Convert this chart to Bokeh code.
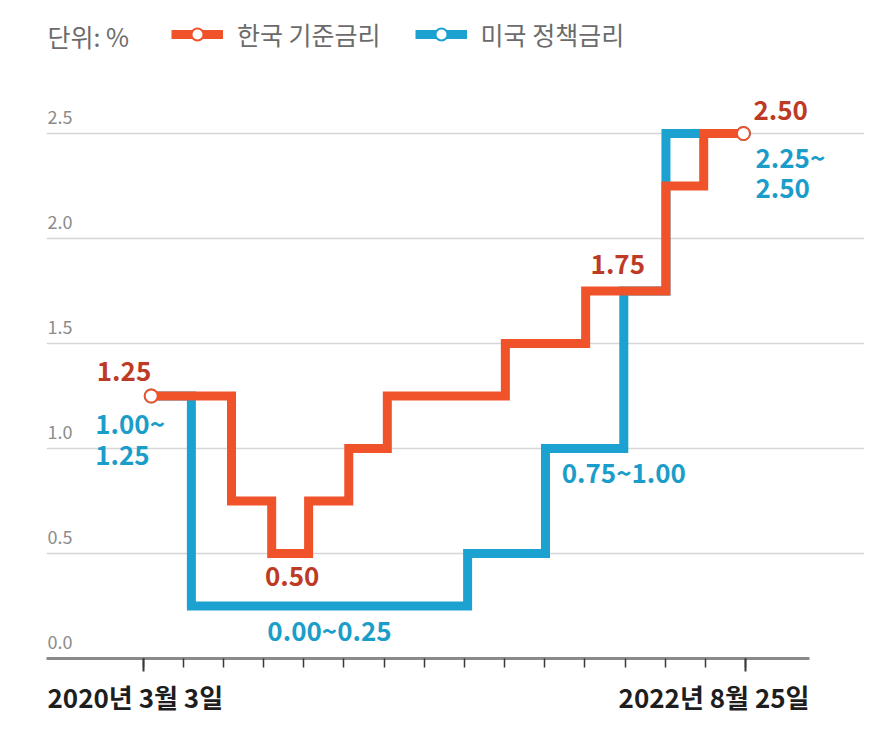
from bokeh.plotting import figure
from bokeh.layouts import column
from bokeh.models import Range1d, FixedTicker, Legend, LegendItem
from bokeh.core.properties import value
from bokeh.embed import file_html
from bokeh.resources import INLINE

FONT = "Noto Sans CJK KR"
ORANGE = "#f0522a"
BLUE = "#1ba2d0"
ORANGE_TXT = "#bd3a25"
BLUE_TXT = "#1b9dca"

# ---------------- data (x = position on the schematic timeline, tick units) ----------------
kr_x = [0.2, 2.2, 3.2, 4.12, 5.12, 6.08, 9.02, 11.02, 13.02, 13.96, 14.95]
kr_rate = [1.25, 0.75, 0.50, 0.75, 1.00, 1.25, 1.50, 1.75, 2.25, 2.50, 2.50]

us_x = [0.2, 1.2, 8.08, 10.02, 11.97, 13.02, 14.95]
us_upper = [1.25, 0.25, 0.50, 1.00, 1.75, 2.50, 2.50]
us_lower = [1.00, 0.00, 0.25, 0.75, 1.50, 2.25, 2.25]

y_ticks = [0.0, 0.5, 1.0, 1.5, 2.0, 2.5]
x_ticks = list(range(16))
date_ticks = [0, 15]
date_labels = ["2020년 3월 3일", "2022년 8월 25일"]

# ---------------- layout ----------------
PX_PER_TICK = 40.15
TICK0_PX = 142.7
FRAME_L, FRAME_R, AXIS_R = 46, 864, 809
X_START = (FRAME_L - TICK0_PX) / PX_PER_TICK
X_END = (FRAME_R - TICK0_PX) / PX_PER_TICK
X_AX_END = (AXIS_R - TICK0_PX) / PX_PER_TICK
Y_END = 658 / 210
MAIN_H = 673

p = figure(width=872, height=MAIN_H,
           x_range=Range1d(X_START, X_END), y_range=Range1d(0, Y_END),
           output_backend="svg", toolbar_location=None,
           min_border_left=FRAME_L, min_border_right=872 - FRAME_R,
           min_border_top=0, min_border_bottom=MAIN_H - 658)
p.outline_line_color = None
p.background_fill_color = "white"
p.border_fill_color = "white"
p.yaxis.visible = False
p.xgrid.visible = False
p.ygrid.ticker = FixedTicker(ticks=y_ticks[1:])
p.ygrid.bounds = (X_START, X_AX_END)
p.ygrid.grid_line_color = "#d6d6d6"
p.ygrid.grid_line_width = 1.5

ax = p.xaxis[0]
ax.bounds = (X_START, X_AX_END)
ax.ticker = FixedTicker(ticks=date_ticks, minor_ticks=x_ticks)
ax.major_label_overrides = {t: "" for t in date_ticks}
ax.major_label_text_font_size = "0px"
ax.major_label_standoff = 0
ax.axis_line_color = "#8a8a8a"
ax.axis_line_width = 3
ax.major_tick_in = 0
ax.major_tick_out = 13
ax.major_tick_line_color = "#3a3a3a"
ax.major_tick_line_width = 2
ax.minor_tick_in = 0
ax.minor_tick_out = 9
ax.minor_tick_line_color = "#3a3a3a"
ax.minor_tick_line_width = 1.5

# ---------------- lines ----------------
us_line = p.step(us_x, us_upper, mode="after", line_width=9, line_color=BLUE,
                 line_join="miter")
us_dot = p.scatter([us_x[0], us_x[-1]], [us_upper[0], us_upper[-1]], marker="circle",
                   size=13, fill_color="white", line_color=BLUE, line_width=2)
kr_line = p.step(kr_x, kr_rate, mode="after", line_width=9, line_color=ORANGE,
                 line_join="miter")
kr_dot = p.scatter([kr_x[0], kr_x[-1]], [kr_rate[0], kr_rate[-1]], marker="circle",
                   size=13, fill_color="white", line_color=ORANGE, line_width=2)

# ---------------- y tick labels ----------------
p.text(x=[X_START] * len(y_ticks), y=y_ticks, text=[f"{v:.1f}" for v in y_ticks],
       text_font=value(FONT), text_font_size="18px", text_color="#8c8c8c",
       text_align="left", text_baseline="alphabetic", x_offset=1, y_offset=-17)

SHIFT = -12  # baseline correction


def lab(x, y, txt, color, align, xo, yo):
    p.text(x=[x], y=[y], text=[txt], text_font=value(FONT), text_font_size="26px",
           text_font_style="bold", text_color=color, text_align=align,
           text_baseline="alphabetic", x_offset=xo, y_offset=yo + SHIFT)


f2 = lambda v: f"{v:.2f}"

# Korea labels
lab(kr_x[0], kr_rate[0], f2(kr_rate[0]), ORANGE_TXT, "right", 0, -13)
lab((kr_x[2] + kr_x[3]) / 2, kr_rate[2], f2(kr_rate[2]), ORANGE_TXT, "center", 2, 35)
lab((kr_x[7] + kr_x[8]) / 2, kr_rate[7], f2(kr_rate[7]), ORANGE_TXT, "center", -8, -15)
lab(kr_x[-1], kr_rate[-1], f2(kr_rate[-1]), ORANGE_TXT, "left", 10, -11)

# US labels
lab(us_x[0], us_upper[0], f2(us_lower[0]) + "~", BLUE_TXT, "left", -56, 38)
lab(us_x[0], us_upper[0], f2(us_upper[0]), BLUE_TXT, "left", -56, 71)
lab((us_x[1] + us_x[2]) / 2, us_upper[1], f2(us_lower[1]) + "~" + f2(us_upper[1]),
    BLUE_TXT, "center", 0, 35)
lab(us_x[4], us_upper[3], f2(us_lower[3]) + "~" + f2(us_upper[3]), BLUE_TXT, "center", 0, 35)
lab(us_x[-1], us_upper[-1], f2(us_lower[-1]) + "~", BLUE_TXT, "left", 12, 35)
lab(us_x[-1], us_upper[-1], f2(us_upper[-1]), BLUE_TXT, "left", 12, 67)

# unit text
p.text(x=[X_START], y=[Y_END], text=["단위: %"], text_font=value(FONT),
       text_font_size="25px", text_color="#6b6b6b", text_align="left",
       text_baseline="middle", x_offset=1, y_offset=35)

# legend
legend = Legend(items=[LegendItem(label="한국 기준금리", renderers=[kr_line, kr_dot]),
                       LegendItem(label="미국 정책금리", renderers=[us_line, us_dot])],
                orientation="horizontal", location=(125, 606),
                glyph_width=52, glyph_height=30, label_standoff=14, spacing=34,
                padding=0, margin=0, border_line_color=None, background_fill_alpha=0,
                label_text_font=FONT, label_text_font_size="25px",
                label_text_color="#6b6b6b")
p.add_layout(legend)

# ---------------- date labels strip under the axis (frame aligned with main plot) ----------------
STRIP_H = 730 - MAIN_H
strip = figure(width=872, height=STRIP_H, x_range=p.x_range,
               y_range=Range1d(0, 1), output_backend="svg", toolbar_location=None,
               min_border_left=FRAME_L, min_border_right=872 - FRAME_R,
               min_border_top=0, min_border_bottom=0)
strip.axis.visible = False
strip.grid.visible = False
strip.outline_line_color = None
strip.background_fill_color = "white"
strip.border_fill_color = "white"
for xpos, txt, align, xo in [(X_START, date_labels[0], "left", 1),
                             (X_AX_END, date_labels[1], "right", 0)]:
    strip.text(x=[xpos], y=[1], text=[txt], text_font=value(FONT), text_font_size="26px",
               text_font_style="bold", text_color="#1e1e1e", text_align=align,
               text_baseline="alphabetic", x_offset=xo, y_offset=696 - MAIN_H)

layout = column(p, strip, spacing=0)
open("out.html", "w").write(file_html(layout, INLINE))
